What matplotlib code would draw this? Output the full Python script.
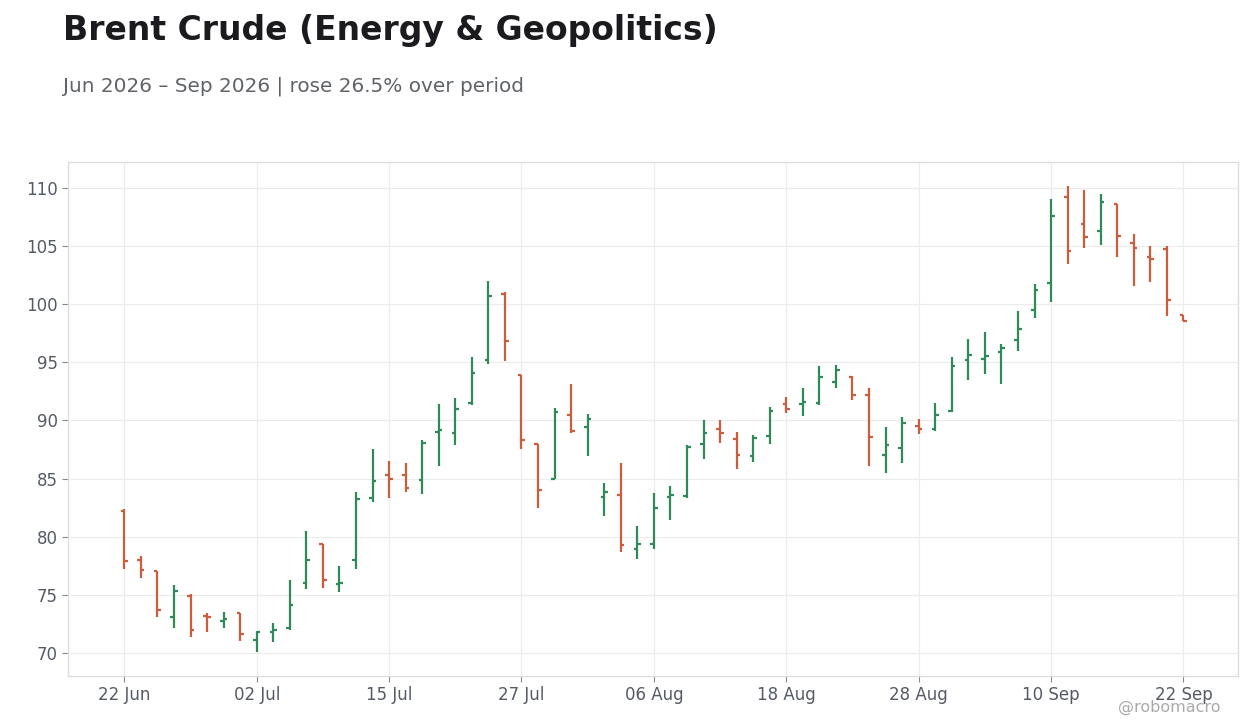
import matplotlib
matplotlib.use("Agg")
import matplotlib.pyplot as plt
import numpy as np
import pandas as pd

# trading days (US holidays 3 Jul and 7 Sep skipped)
dates = pd.bdate_range("2026-06-22", "2026-09-22", freq="C",
                       holidays=["2026-07-03", "2026-09-07"])

opens = [82.2, 78.0, 77.0, 73.1, 74.9, 73.2, 72.7, 73.4, 71.1, 71.8,
         72.1, 76.0, 79.4, 75.95, 78.0, 83.3, 85.3, 85.3, 84.9, 89.0,
         88.9, 91.5, 95.2, 100.9, 93.9, 88.0, 85.0, 90.5, 89.4, 83.4,
         83.6, 78.9, 79.4, 83.4, 83.5, 88.0, 89.3, 88.4, 86.9, 88.7,
         91.4, 91.4, 91.5, 93.3, 93.7, 92.2, 87.0, 87.6, 89.55, 89.3,
         90.85, 95.2, 95.3, 95.9, 96.95, 99.5, 101.85, 109.2, 106.9, 106.3,
         108.6, 105.3, 104.1, 104.8, 99.1]
highs = [82.35, 78.3, 77.05, 75.8, 75.05, 73.4, 73.5, 73.4, 71.9, 72.6,
         76.3, 80.5, 79.4, 77.5, 83.85, 87.55, 86.5, 86.3, 88.3, 91.4,
         91.9, 95.45, 102.0, 101.1, 93.95, 88.0, 91.05, 93.15, 90.55, 84.6,
         86.35, 80.95, 83.75, 84.35, 87.85, 90.05, 90.05, 89.0, 88.75, 91.15,
         92.0, 92.8, 94.7, 94.75, 93.8, 92.8, 89.4, 90.3, 90.1, 91.5,
         95.45, 97.0, 97.6, 96.6, 99.4, 101.75, 109.05, 110.15, 109.8, 109.5,
         108.6, 106.05, 105.0, 105.0, 99.1]
lows = [77.25, 76.4, 73.05, 72.1, 71.4, 71.8, 72.1, 71.05, 70.1, 70.95,
        72.0, 75.5, 75.6, 75.25, 77.25, 83.0, 83.35, 83.8, 83.7, 86.1,
        87.9, 91.35, 94.9, 95.15, 87.5, 82.5, 84.95, 88.9, 86.95, 81.8,
        78.7, 78.1, 78.95, 81.45, 83.35, 86.7, 88.1, 85.85, 86.45, 88.0,
        90.6, 90.4, 91.35, 92.8, 91.8, 86.1, 85.5, 86.3, 88.85, 89.05,
        90.75, 93.5, 94.0, 93.15, 96.0, 98.85, 100.2, 103.5, 104.85, 105.1,
        104.1, 101.6, 101.95, 99.0, 98.55]
closes = [77.9, 77.1, 73.7, 75.3, 72.0, 73.1, 72.9, 71.6, 71.75, 72.0,
          74.15, 78.0, 76.3, 76.0, 83.25, 84.75, 85.0, 84.2, 88.1, 89.2,
          91.0, 94.1, 100.75, 96.8, 88.3, 84.05, 90.75, 89.05, 90.15, 83.8,
          79.3, 79.4, 82.5, 83.55, 87.75, 88.95, 88.95, 87.05, 88.5, 90.85,
          91.0, 91.6, 93.75, 94.35, 92.2, 88.6, 87.85, 89.75, 89.3, 90.5,
          94.65, 95.65, 95.55, 96.25, 97.9, 101.25, 107.6, 104.6, 105.75, 108.8,
          105.9, 104.85, 103.9, 100.4, 98.55]

UP = "#2e8b57"
DOWN = "#cc5c3c"

fig = plt.figure(figsize=(12.6, 7.28), dpi=100)
ax = fig.add_axes([0.054, 0.0714, 0.9286, 0.7061])

x = np.arange(len(dates))
o = np.array(opens)
h = np.array(highs)
l = np.array(lows)
c = np.array(closes)
cols = [UP if cc >= oo else DOWN for oo, cc in zip(o, c)]

tw = 0.22  # open/close tick width
ax.vlines(x, l, h, colors=cols, linewidth=1.6, zorder=3)
ax.hlines(o, x - tw, x, colors=cols, linewidth=1.6, zorder=3)
ax.hlines(c, x, x + tw, colors=cols, linewidth=1.6, zorder=3)

ax.set_xlim(-3.4, len(dates) - 1 + 3.3)
ax.set_ylim(68.0, 112.25)

tick_pos = x[::8]
ax.set_xticks(tick_pos)
ax.set_xticklabels([dates[i].strftime("%d %b") for i in tick_pos])
ax.set_yticks(np.arange(70, 111, 5))

ax.grid(True, color="#ececec", linewidth=0.8, zorder=0)
ax.set_axisbelow(True)
for s in ax.spines.values():
    s.set_color("#dddddd")
    s.set_linewidth(1.0)
ax.tick_params(axis="both", colors="#888888", labelcolor="#555b66",
               labelsize=12, length=4, width=0.8)

fig.text(0.050, 0.945, "Brent Crude (Energy & Geopolitics)", fontsize=23.8,
         fontweight="bold", color="#1a1a1f", ha="left", va="baseline")
fig.text(0.050, 0.874, "Jun 2026 \u2013 Sep 2026 | rose 26.5% over period",
         fontsize=14.4, color="#5f6368", ha="left", va="baseline")
fig.text(0.969, 0.022, "@robomacro", fontsize=11.5, color="#aaaaaa",
         ha="right", va="baseline")

fig.savefig("out.png", dpi=100)
